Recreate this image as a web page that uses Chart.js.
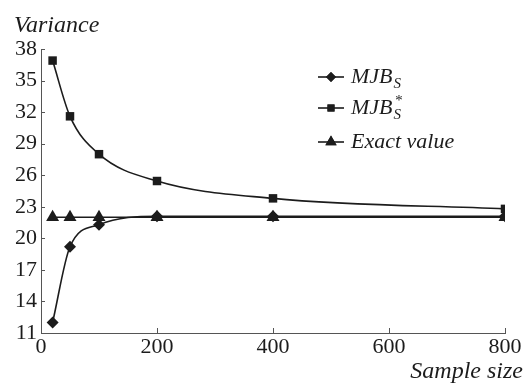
<!DOCTYPE html>
<html>
<head>
<meta charset="utf-8">
<script src="https://cdn.jsdelivr.net/npm/chart.js@4.4.1/dist/chart.umd.min.js"></script>
<style>
  html, body { margin: 0; padding: 0; background: #fff; }
  #box { position: relative; width: 528px; height: 383px; }
</style>
</head>
<body>
<div id="box"><canvas id="c" width="528" height="383"></canvas></div>
<script>
/* Daten */
const sampleSizes = [20, 50, 100, 200, 400, 800];
const mjbS = [12.0, 19.2, 21.3, 22.1, 22.1, 22.1];
const mjbSStar = [36.9, 31.6, 28.0, 25.45, 23.8, 22.8];
const exactValue = [22, 22, 22, 22, 22, 22];
const xTicks = [0, 200, 400, 600, 800];
const yTicks = [11, 14, 17, 20, 23, 26, 29, 32, 35, 38];

const INK = "#1c1c1c", AXIS = "#555";
const SERIF = "'Liberation Serif', 'DejaVu Serif', serif";

const pts = (ys) => sampleSizes.map((x, i) => ({ x, y: ys[i] }));

function series(label, ys, style, radius, parts) {
  return {
    label, data: pts(ys), parts,
    borderColor: INK, backgroundColor: INK,
    borderWidth: 1.6,
    pointStyle: style, pointRadius: radius,
    pointBackgroundColor: INK, pointBorderColor: INK, pointBorderWidth: 0,
    cubicInterpolationMode: "monotone",
  };
}

/* nach innen zeigende Ticks */
const innerTicks = {
  id: "innerTicks",
  afterDraw(chart) {
    const { ctx, scales: { x, y }, chartArea: a } = chart;
    ctx.save();
    ctx.strokeStyle = AXIS;
    ctx.lineWidth = 1;
    ctx.beginPath();
    xTicks.forEach((v) => { const p = Math.round(x.getPixelForValue(v)) + 0.5; ctx.moveTo(p, a.bottom); ctx.lineTo(p, a.bottom - 5); });
    yTicks.forEach((v) => { const p = Math.round(y.getPixelForValue(v)) + 0.5; ctx.moveTo(a.left, p); ctx.lineTo(a.left + 4, p); });
    ctx.stroke();
    ctx.restore();
  },
};

/* Legende und Achsentitel */
const labels = {
  id: "labels",
  afterDraw(chart) {
    const ctx = chart.ctx;
    ctx.save();
    ctx.fillStyle = INK;
    ctx.font = `italic 24px ${SERIF}`;
    ctx.textBaseline = "alphabetic";
    ctx.textAlign = "left";
    ctx.fillText("Variance", 14, 32);
    ctx.textAlign = "right";
    ctx.fillText("Sample size", 523, 378);

    const rows = [83, 114, 148];
    chart.data.datasets.forEach((ds, i) => {
      const yy = rows[i] - 6;
      ctx.strokeStyle = INK;
      ctx.lineWidth = 1.6;
      ctx.beginPath();
      ctx.moveTo(318, yy); ctx.lineTo(344, yy);
      ctx.stroke();
      Chart.helpers.drawPoint(ctx, { pointStyle: ds.pointStyle, radius: ds.pointRadius - 1, rotation: 0, borderWidth: 0 }, 331, yy);
      ctx.fill();
      ctx.textAlign = "left";
      ctx.font = `italic 22px ${SERIF}`;
      let xx = 351;
      const [main, sub, sup] = ds.parts;
      ctx.fillText(main, xx, rows[i]);
      xx += ctx.measureText(main).width + 1;
      ctx.font = `italic 15px ${SERIF}`;
      if (sup) ctx.fillText(sup, xx + 1, rows[i] - 9);
      if (sub) ctx.fillText(sub, xx, rows[i] + 5);
    });
    ctx.restore();
  },
};

new Chart(document.getElementById("c"), {
  type: "line",
  data: {
    datasets: [
      series("MJB_S", mjbS, "rectRot", 6, ["MJB", "S"]),
      series("MJB*_S", mjbSStar, "rect", 6, ["MJB", "S", "*"]),
      series("Exact value", exactValue, "triangle", 7.5, ["Exact value"]),
    ],
  },
  options: {
    responsive: false,
    animation: false,
    layout: { padding: { top: 49, right: 23, left: 0, bottom: 0 } },
    plugins: { legend: { display: false }, tooltip: { enabled: false } },
    scales: {
      x: {
        type: "linear", min: 0, max: 800,
        afterFit: (s) => { s.height = 50; },
        afterBuildTicks: (s) => { s.ticks = xTicks.map((v) => ({ value: v })); },
        grid: { display: false, drawTicks: false },
        border: { display: true, color: AXIS, width: 1 },
        ticks: { color: INK, padding: 3, font: { family: SERIF, size: 22, lineHeight: 1 } },
      },
      y: {
        type: "linear", min: 11, max: 38,
        afterFit: (s) => { s.width = 41; },
        afterBuildTicks: (s) => { s.ticks = yTicks.map((v) => ({ value: v })); },
        grid: { display: false, drawTicks: false },
        border: { display: true, color: AXIS, width: 1 },
        ticks: { color: INK, padding: 4, font: { family: SERIF, size: 22 } },
      },
    },
  },
  plugins: [innerTicks, labels],
});
</script>
</body>
</html>
